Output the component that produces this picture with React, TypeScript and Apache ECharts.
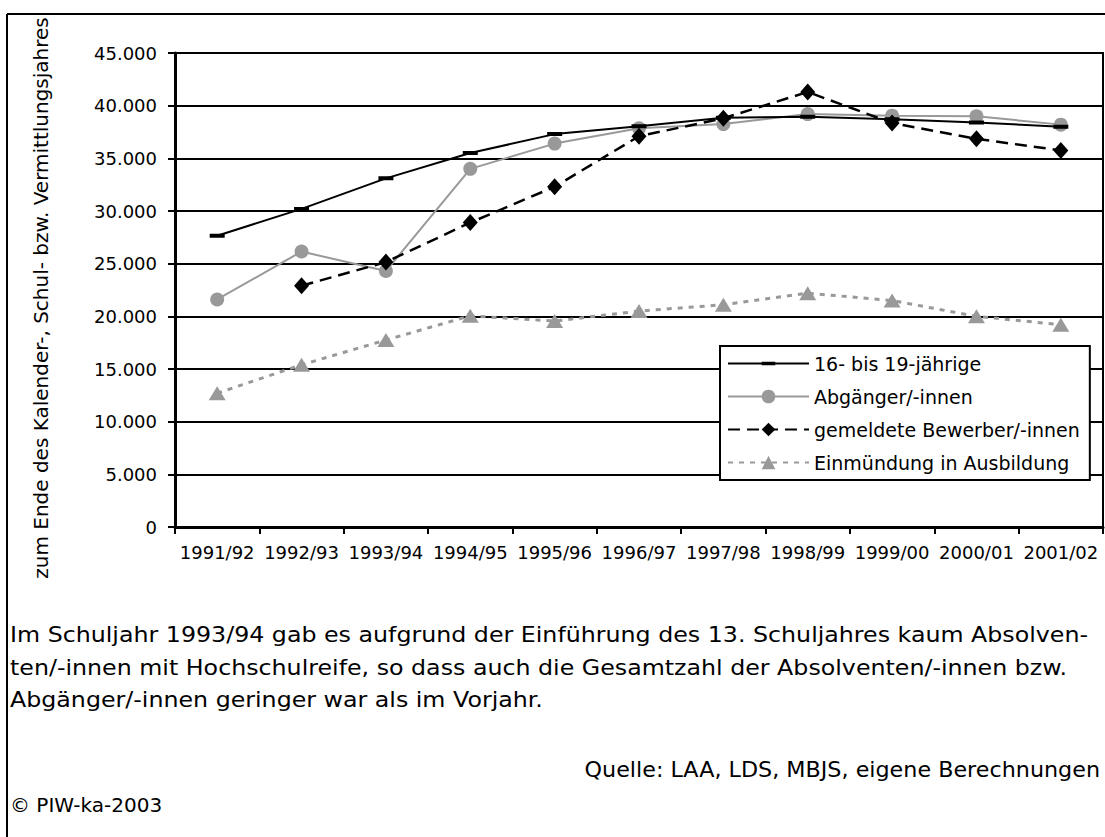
import React, { useEffect, useRef } from "react";
import * as echarts from "echarts";

const categories = ["1991/92", "1992/93", "1993/94", "1994/95", "1995/96", "1996/97", "1997/98", "1998/99", "1999/00", "2000/01", "2001/02"];
const age16to19 = [27650, 30200, 33100, 35500, 37300, 38050, 38850, 38950, 38700, 38400, 38000];
const abgaenger = [21600, 26150, 24300, 34000, 36400, 37850, 38250, 39200, 39050, 39000, 38200];
const bewerber = [null, 22900, 25150, 28900, 32300, 37100, 38800, 41300, 38350, 36850, 35750];
const einmuendung = [12700, 15400, 17750, 20050, 19550, 20500, 21100, 22200, 21500, 20000, 19200];
const seriesNames = ["16- bis 19-jährige", "Abgänger/-innen", "gemeldete Bewerber/-innen", "Einmündung in Ausbildung"];
const yAxisTitle = "zum Ende des Kalender-, Schul- bzw. Vermittlungsjahres";
const noteLines = [
  "Im Schuljahr 1993/94 gab es aufgrund der Einführung des 13. Schuljahres kaum Absolven-",
  "ten/-innen mit Hochschulreife, so dass auch die Gesamtzahl der Absolventen/-innen bzw.",
  "Abgänger/-innen geringer war als im Vorjahr.",
];
const sourceText = "Quelle: LAA, LDS, MBJS, eigene Berechnungen";
const copyrightText = "© PIW-ka-2003";

const FONT = "'DejaVu Sans', 'Liberation Sans', Arial, sans-serif";
const GRAY = "#999999";
// bar-shaped marker inside a square bounding box (tiny corner dots keep the box square)
const BAR_SYMBOL = "path://M0 0L0.01 0L0.01 0.01Z M15 15L14.99 15L14.99 14.99Z M0 5.5H15V9.5H0Z";

function fmt(v: number): string {
  if (v === 0) return "0";
  const s = String(Math.round(v));
  return s.replace(/\B(?=(\d{3})+(?!\d))/g, ".");
}

export default function App() {
  const ref = useRef<HTMLDivElement>(null);
  useEffect(() => {
    if (!ref.current) return;
    const chart = echarts.init(ref.current, undefined, { renderer: "svg" });
    const textStyle = { fontFamily: FONT, color: "#000" };
    chart.setOption({
      animation: false,
      backgroundColor: "#fff",
      textStyle,
      grid: {
        left: 175,
        top: 53,
        right: 2,
        bottom: 310,
        show: true,
        borderColor: "#000",
        borderWidth: 2,
        containLabel: false,
      },
      xAxis: {
        type: "category",
        data: categories,
        boundaryGap: true,
        axisLine: { show: true, lineStyle: { color: "#000", width: 3 } },
        axisTick: { show: true, length: 7, lineStyle: { color: "#000", width: 2 } },
        axisLabel: { color: "#000", fontSize: 18, fontFamily: FONT, margin: 16, interval: 0 },
        splitLine: { show: false },
      },
      yAxis: {
        type: "value",
        min: 0,
        max: 45000,
        interval: 5000,
        name: yAxisTitle,
        nameLocation: "middle",
        nameRotate: 90,
        nameGap: 124,
        nameTextStyle: { color: "#000", fontSize: 20, fontFamily: FONT, padding: [0, 16, 0, 0] },
        axisLine: { show: true, lineStyle: { color: "#000", width: 3 } },
        axisTick: { show: true, length: 7, lineStyle: { color: "#000", width: 2 } },
        axisLabel: { color: "#000", fontSize: 18, fontFamily: FONT, margin: 18, formatter: (v: number) => fmt(v) },
        splitLine: { show: true, lineStyle: { color: "#000", width: 2 } },
      },
      legend: {
        orient: "vertical",
        left: 720,
        top: 346,
        padding: [8, 10, 8, 7],
        itemWidth: 81,
        itemHeight: 17,
        itemGap: 14,
        backgroundColor: "#fff",
        borderColor: "#000",
        borderWidth: 2,
        borderRadius: 0,
        textStyle: { color: "#000", fontSize: 19, fontFamily: FONT },
        data: seriesNames,
      },
      series: [
        {
          name: seriesNames[0],
          type: "line",
          data: age16to19,
          symbol: BAR_SYMBOL,
          symbolSize: 15,
          lineStyle: { color: "#000", width: 2 },
          itemStyle: { color: "#000" },
          z: 4,
        },
        {
          name: seriesNames[1],
          type: "line",
          data: abgaenger,
          symbol: "circle",
          symbolSize: 14,
          lineStyle: { color: GRAY, width: 2 },
          itemStyle: { color: GRAY },
          z: 3,
        },
        {
          name: seriesNames[2],
          type: "line",
          data: bewerber,
          symbol: "diamond",
          symbolSize: [15, 17],
          lineStyle: { color: "#000", width: 2.5, type: [12, 7] },
          itemStyle: { color: "#000" },
          z: 5,
        },
        {
          name: seriesNames[3],
          type: "line",
          data: einmuendung,
          symbol: "triangle",
          symbolSize: [17, 14],
          lineStyle: { color: GRAY, width: 3, type: [5, 6] },
          itemStyle: { color: GRAY },
          z: 2,
        },
      ],
      graphic: [
        { type: "line", shape: { x1: 7, y1: 14, x2: 1105, y2: 14 }, style: { stroke: "#000", lineWidth: 2 } },
        { type: "line", shape: { x1: 7, y1: 14, x2: 7, y2: 837 }, style: { stroke: "#000", lineWidth: 2 } },
        ...noteLines.map((t, i) => ({
          type: "text",
          x: 10,
          y: 635 + i * 32.5,
          scaleX: 1.13,
          style: { text: t, fontSize: 21, fontFamily: FONT, fill: "#000", align: "left", verticalAlign: "middle" },
        })),
        {
          type: "text",
          x: 1100,
          y: 770,
          scaleX: 1.06,
          style: { text: sourceText, fontSize: 21, fontFamily: FONT, fill: "#000", align: "right", verticalAlign: "middle" },
        },
        {
          type: "text",
          x: 10,
          y: 805,
          style: { text: copyrightText, fontSize: 20, fontFamily: FONT, fill: "#000", align: "left", verticalAlign: "middle" },
        },
      ],
    });
    return () => chart.dispose();
  }, []);
  return <div ref={ref} style={{ position: "absolute", left: 0, top: 0, width: 1105, height: 837 }} />;
}
